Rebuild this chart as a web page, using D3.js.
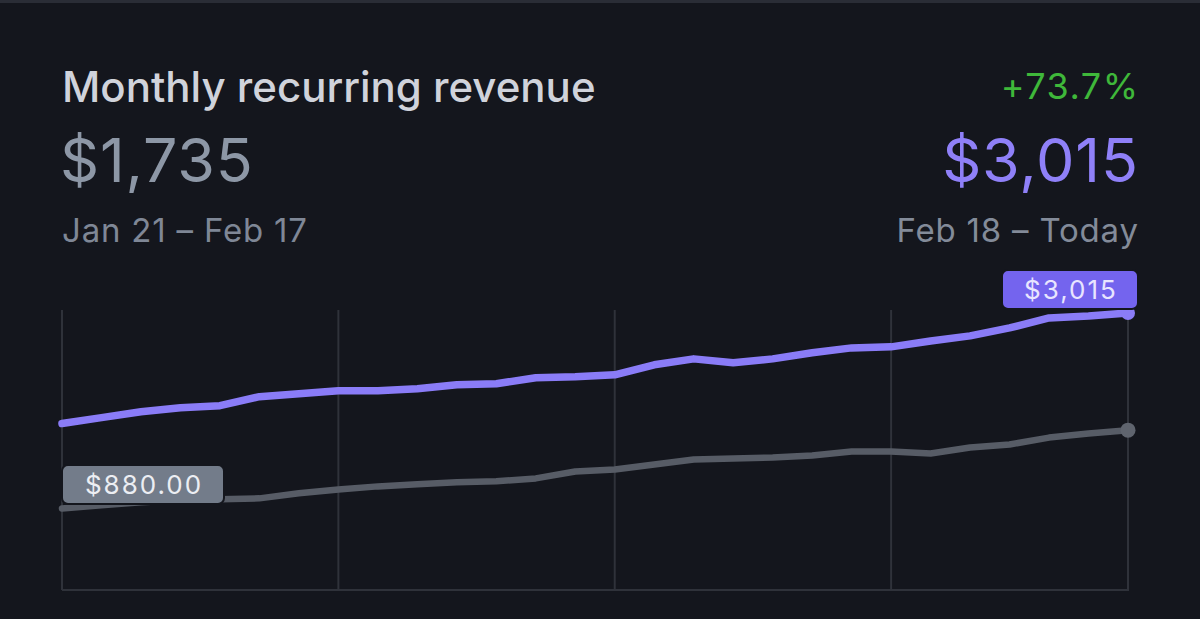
<!DOCTYPE html>
<html>
<head>
<meta charset="utf-8">
<script src="https://cdn.jsdelivr.net/npm/d3@7"></script>
<style>
  html, body { margin: 0; padding: 0; background: #14161d; }
  svg { display: block; font-family: Inter, "Noto Sans", sans-serif; }
</style>
</head>
<body>
<div id="chart"></div>
<script>
// MRR comparison: current period vs previous period, one value per day
const title = 'Monthly recurring revenue';
const change = '+73.7%';
const previousLabel = 'Jan 21 – Feb 17';
const currentLabel = 'Feb 18 – Today';
const previousTotal = 1735;
const currentTotal = 3015;

const dayIndex = d3.range(28);
const gridDays = [0, 7, 14, 21, 27];

const currentValues = [1807, 1872, 1937, 1981, 2003, 2101, 2133, 2166, 2166, 2188,
    2231, 2242, 2308, 2318, 2340, 2449, 2514, 2471, 2514, 2580,
    2634, 2645, 2710, 2765, 2852, 2961, 2982, 3015];
const previousValues = [880, 914, 947, 969, 980, 990, 1045, 1088, 1121, 1143,
    1165, 1176, 1208, 1284, 1306, 1361, 1415, 1426, 1437, 1459,
    1502, 1502, 1480, 1546, 1578, 1654, 1698, 1735];

const width = 1200, height = 619;
const margin = { top: 311, right: 72, bottom: 29, left: 62 };
const money = d3.format(',');

const svg = d3.select('#chart').append('svg')
    .attr('width', width)
    .attr('height', height);

svg.append('rect').attr('width', width).attr('height', height).attr('fill', '#14161d');
svg.append('rect').attr('width', width).attr('height', 3).attr('fill', '#2a2d36');

// Header texts
function header(x, y, size, color, txt, opts = {}) {
    const ls = opts.spacing || 0;
    svg.append('text')
        .attr('x', opts.end ? x + ls : x)
        .attr('y', y)
        .attr('text-anchor', opts.end ? 'end' : 'start')
        .attr('font-size', size)
        .attr('font-weight', opts.weight || 400)
        .attr('letter-spacing', ls)
        .attr('fill', color)
        .text(txt);
}

header(62, 102, 42, '#d0d3db', title, { weight: 500 });
header(60, 182, 61, '#8d97a6', '$' + money(previousTotal), { spacing: 0.8 });
header(62, 242, 33, '#7f8796', previousLabel, { spacing: 0.8 });

header(1138, 99, 36, '#3fb83a', change, { end: true, spacing: 1.5 });
header(1138, 182, 61, '#8f80f8', '$' + money(currentTotal), { end: true, spacing: 0.8 });
header(1138, 242, 33, '#838b99', currentLabel, { end: true, spacing: 0.8 });

// Scales
const x = d3.scaleLinear()
    .domain([0, dayIndex.length - 1])
    .range([margin.left, width - margin.right]);

const y = d3.scaleLinear()
    .domain([0, currentTotal])
    .range([height - margin.bottom - 1, 313]);

const g = svg.append('g');

// Vertical grid lines and baseline
g.selectAll('.grid')
    .data(gridDays)
    .enter()
    .append('line')
    .attr('class', 'grid')
    .attr('x1', d => x(d)).attr('x2', d => x(d))
    .attr('y1', 310).attr('y2', height - margin.bottom)
    .attr('stroke', '#2f323a')
    .attr('stroke-width', 2);

g.append('line')
    .attr('x1', margin.left).attr('x2', x(27) + 1)
    .attr('y1', height - margin.bottom).attr('y2', height - margin.bottom)
    .attr('stroke', '#2f323a')
    .attr('stroke-width', 2);

const line = d3.line()
    .x((d, i) => x(dayIndex[i]))
    .y(d => y(d));

// Previous period
g.append('path')
    .datum(previousValues)
    .attr('d', line)
    .attr('fill', 'none')
    .attr('stroke', '#575c66')
    .attr('stroke-width', 6.5)
    .attr('stroke-linejoin', 'round')
    .attr('stroke-linecap', 'round');

g.append('circle')
    .attr('cx', x(27)).attr('cy', y(previousValues[27]))
    .attr('r', 7.5)
    .attr('fill', '#5f646e');

// Current period
g.append('path')
    .datum(currentValues)
    .attr('d', line)
    .attr('fill', 'none')
    .attr('stroke', '#8a7cf7')
    .attr('stroke-width', 7.5)
    .attr('stroke-linejoin', 'round')
    .attr('stroke-linecap', 'round');

g.append('circle')
    .attr('cx', x(27)).attr('cy', y(currentValues[27]))
    .attr('r', 7)
    .attr('fill', '#8a7cf7');

// Value badges
function badge(cx, top, w, label, fill, textFill) {
    const b = svg.append('g');
    b.append('rect')
        .attr('x', cx - w / 2).attr('y', top)
        .attr('width', w).attr('height', 39)
        .attr('rx', 6)
        .attr('fill', fill)
        .attr('stroke', '#14161d')
        .attr('stroke-width', 2);
    b.append('text')
        .attr('x', cx + 1).attr('y', top + 20)
        .attr('dy', '0.35em')
        .attr('text-anchor', 'middle')
        .attr('font-size', 26)
        .attr('letter-spacing', 2)
        .attr('fill', textFill)
        .text(label);
}

badge(x(27) - 58, 270, 136, '$' + money(currentValues[27]), '#7464ee', '#e8e5ff');
badge(x(0) + 81, 465, 162, '$' + d3.format(',.2f')(previousValues[0]), '#737c8a', '#eceef3');
</script>
</body>
</html>
